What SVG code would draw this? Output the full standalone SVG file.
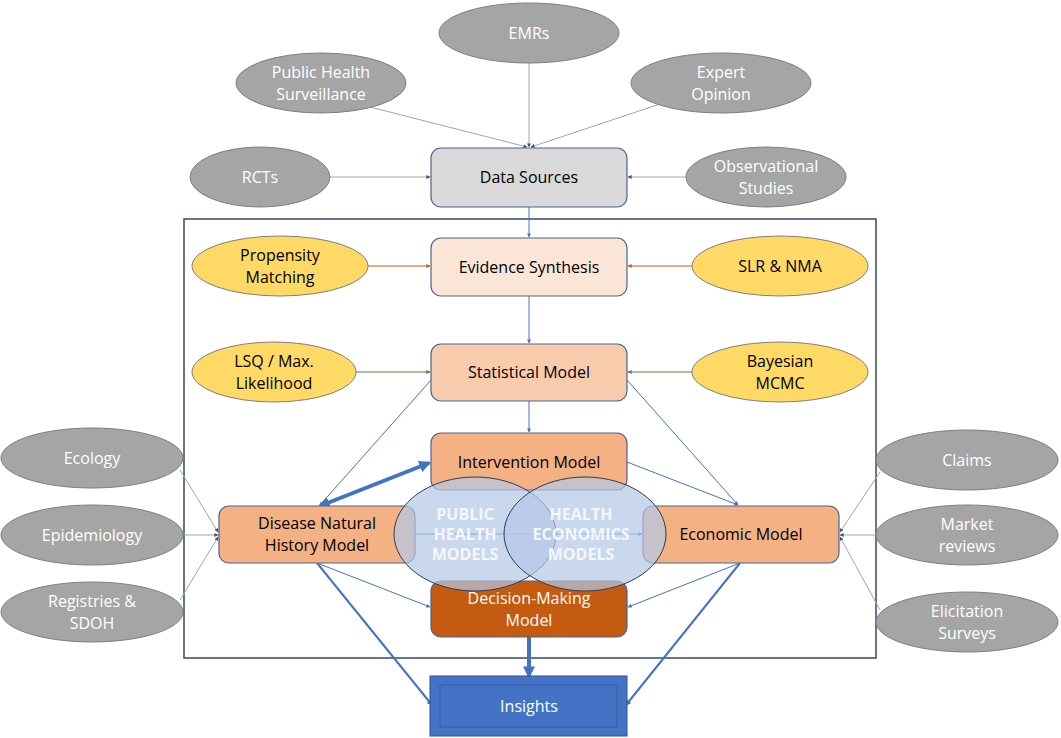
<svg xmlns="http://www.w3.org/2000/svg" width="1061" height="738" viewBox="0 0 1061 738">
<defs>
<marker id="ag" viewBox="0 0 10 10" refX="9" refY="5" markerWidth="4" markerHeight="4" orient="auto"><path d="M0,0L10,5L0,10z" fill="#44546a"/></marker>
<marker id="ab" viewBox="0 0 10 10" refX="9" refY="5" markerWidth="4" markerHeight="4" orient="auto"><path d="M0,0L10,5L0,10z" fill="#4472c4"/></marker>
<marker id="abt" viewBox="0 0 10 10" refX="8" refY="5" markerWidth="3" markerHeight="3" orient="auto"><path d="M0,0L10,5L0,10z" fill="#4472c4"/></marker>
<marker id="ao" viewBox="0 0 10 10" refX="9" refY="5" markerWidth="4" markerHeight="4" orient="auto"><path d="M0,0L10,5L0,10z" fill="#c55a11"/></marker>
<marker id="agr" viewBox="0 0 10 10" refX="9" refY="5" markerWidth="4" markerHeight="4" orient="auto"><path d="M0,0L10,5L0,10z" fill="#548235"/></marker>
<marker id="ad" viewBox="0 0 10 10" refX="8" refY="5" markerWidth="3" markerHeight="3" orient="auto-start-reverse"><path d="M0,0L10,5L0,10z" fill="#4472c4"/></marker>
</defs>
<style>
text{font-family:"Open Sans","Liberation Sans",sans-serif;font-size:16px;text-anchor:middle;dominant-baseline:central}
.g ellipse{fill:#a5a5a5;stroke:#7f7f7f;stroke-width:1}
.g text{fill:#fff}
.y ellipse{fill:#ffd966;stroke:#7f7f7f;stroke-width:1}
.y text,.m text{fill:#000}
.m rect{stroke:#4a6491;stroke-width:1.2}
.t1{stroke-width:1}
.gl{stroke:#a5a5a5;marker-end:url(#ag)}
.bl{stroke:#4472c4;marker-end:url(#ab)}
.ol{stroke:#c55a11;marker-end:url(#ao)}
.grl{stroke:#548235;marker-end:url(#agr)}
.th{stroke:#4472c4;stroke-width:2;marker-end:url(#abt)}
.tk{stroke:#4472c4;stroke-width:4;marker-end:url(#abt)}
</style>
<rect x="184" y="219" width="692" height="439" fill="none" stroke="#2f4a6e" stroke-width="1.5"/>
<g id="connectors">
<line class="gl" x1="529" y1="63" x2="529" y2="147"/>
<line class="gl" x1="370" y1="107" x2="527" y2="147"/>
<line class="gl" x1="660" y1="104" x2="531" y2="147"/>
<line class="gl" x1="330" y1="177" x2="430" y2="177"/>
<line class="gl" x1="686" y1="177" x2="628" y2="177"/>
<line class="bl" x1="529" y1="207" x2="529" y2="237"/>
<line class="ol" x1="368" y1="266" x2="430" y2="266"/>
<line class="ol" x1="692" y1="266" x2="628" y2="266"/>
<line class="bl" x1="529" y1="296" x2="529" y2="343"/>
<line class="grl" x1="356" y1="372" x2="430" y2="372"/>
<line class="grl" x1="692" y1="372" x2="628" y2="372"/>
<line class="bl" x1="529" y1="401" x2="529" y2="432"/>
<line class="bl" x1="431" y1="380" x2="320" y2="505"/>
<line class="bl" x1="627" y1="380" x2="738" y2="505"/>
<line class="bl" x1="627" y1="462" x2="738" y2="505"/>
<line class="bl" x1="415" y1="534" x2="642" y2="534"/>
<line class="tk" x1="320" y1="506" x2="429" y2="463" style="marker-start:url(#ad)"/>
<line class="bl" x1="317" y1="563" x2="430" y2="607"/>
<line class="bl" x1="740" y1="563" x2="628" y2="607"/>
<line class="th" x1="317" y1="563" x2="432" y2="705"/>
<line class="th" x1="740" y1="563" x2="626" y2="705"/>
<line class="tk" x1="529" y1="637" x2="529" y2="676"/>
<line class="gl" x1="180" y1="470" x2="218" y2="532"/>
<line class="gl" x1="184" y1="535" x2="218" y2="535"/>
<line class="gl" x1="180" y1="600" x2="218" y2="537"/>
<line class="gl" x1="880" y1="472" x2="840" y2="532"/>
<line class="gl" x1="876" y1="535" x2="840" y2="535"/>
<line class="gl" x1="880" y1="610" x2="840" y2="537"/>
</g>
<g id="emrs" class="g"><ellipse cx="529" cy="33" rx="90" ry="30"/><text x="529" y="33">EMRs</text></g>
<g id="phs" class="g"><ellipse cx="321" cy="83" rx="85" ry="30"/><text x="321" y="72">Public Health</text><text x="321" y="94">Surveillance</text></g>
<g id="expert" class="g"><ellipse cx="721" cy="83" rx="90" ry="30"/><text x="721" y="72">Expert</text><text x="721" y="94">Opinion</text></g>
<g id="rcts" class="g"><ellipse cx="260" cy="177" rx="70" ry="30"/><text x="260" y="177">RCTs</text></g>
<g id="obs" class="g"><ellipse cx="766" cy="177" rx="80" ry="30"/><text x="766" y="166">Observational</text><text x="766" y="188">Studies</text></g>
<g id="ecology" class="g"><ellipse cx="92" cy="458" rx="91" ry="30"/><text x="92" y="458">Ecology</text></g>
<g id="epi" class="g"><ellipse cx="92" cy="535" rx="91" ry="30"/><text x="92" y="535">Epidemiology</text></g>
<g id="reg" class="g"><ellipse cx="92" cy="612" rx="91" ry="30"/><text x="92" y="601">Registries &amp;</text><text x="92" y="623">SDOH</text></g>
<g id="claims" class="g"><ellipse cx="967" cy="460" rx="91" ry="30"/><text x="967" y="460">Claims</text></g>
<g id="market" class="g"><ellipse cx="967" cy="535" rx="91" ry="30"/><text x="967" y="524">Market</text><text x="967" y="546">reviews</text></g>
<g id="elic" class="g"><ellipse cx="967" cy="622" rx="91" ry="30"/><text x="967" y="611">Elicitation</text><text x="967" y="633">Surveys</text></g>
<g id="prop" class="y"><ellipse cx="280" cy="266" rx="88" ry="30"/><text x="280" y="255">Propensity</text><text x="280" y="277">Matching</text></g>
<g id="slr" class="y"><ellipse cx="780" cy="266" rx="88" ry="30"/><text x="780" y="266">SLR &amp; NMA</text></g>
<g id="lsq" class="y"><ellipse cx="274" cy="372" rx="82" ry="30"/><text x="274" y="361">LSQ / Max.</text><text x="274" y="383">Likelihood</text></g>
<g id="bayes" class="y"><ellipse cx="780" cy="372" rx="88" ry="30"/><text x="780" y="361">Bayesian</text><text x="780" y="383">MCMC</text></g>
<g id="data" class="m"><rect x="431" y="148" width="196" height="59" rx="10" fill="#d9d9d9"/><text x="529" y="177">Data Sources</text></g>
<g id="evid" class="m"><rect x="431" y="238" width="196" height="58" rx="10" fill="#fbe5d6"/><text x="529" y="267">Evidence Synthesis</text></g>
<g id="stat" class="m"><rect x="431" y="344" width="196" height="57" rx="10" fill="#f8cbad"/><text x="529" y="372">Statistical Model</text></g>
<g id="interv" class="m"><rect x="431" y="433" width="196" height="57" rx="10" fill="#f4b183"/><text x="529" y="462">Intervention Model</text></g>
<g id="disease" class="m"><rect x="219" y="506" width="196" height="57" rx="10" fill="#f4b183"/><text x="317" y="523">Disease Natural</text><text x="317" y="545">History Model</text></g>
<g id="econ" class="m"><rect x="643" y="506" width="196" height="57" rx="10" fill="#f4b183"/><text x="741" y="534">Economic Model</text></g>
<g id="decision" class="m"><rect x="431" y="581" width="196" height="56" rx="10" fill="#c55a11"/><text x="529" y="598" style="fill:#fff">Decision-Making</text><text x="529" y="620" style="fill:#fff">Model</text></g>
<g id="venn">
<ellipse cx="475" cy="534" rx="81" ry="57" fill="#b4c7e7" fill-opacity="0.7" stroke="#2f3b55" stroke-width="1"/>
<ellipse cx="585" cy="534" rx="81" ry="57" fill="#b4c7e7" fill-opacity="0.7" stroke="#2f3b55" stroke-width="1"/>
<g style="font-size:13px;font-weight:bold"><text x="465" y="514" fill="#f4f7fc">PUBLIC</text><text x="465" y="534" fill="#f4f7fc">HEALTH</text><text x="465" y="554" fill="#f4f7fc">MODELS</text>
<text x="581" y="514" fill="#f4f7fc">HEALTH</text><text x="581" y="534" fill="#f4f7fc">ECONOMICS</text><text x="581" y="554" fill="#f4f7fc">MODELS</text></g>
</g>
<g id="insights"><rect x="430" y="676" width="197" height="60" fill="#4472c4" stroke="#2f528f"/><rect x="440" y="685" width="177" height="42" fill="#4472c4" stroke="#2f528f" stroke-opacity="0.6"/><text x="529" y="706" fill="#fff">Insights</text></g>
</svg>
